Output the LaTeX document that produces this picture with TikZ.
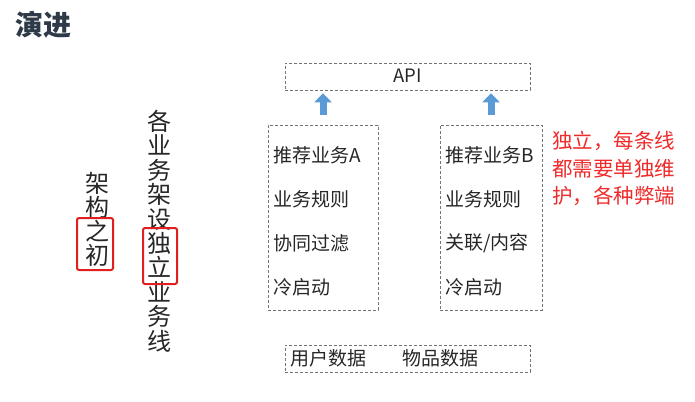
\documentclass[tikz,border=0pt]{standalone}
\usepackage{fontspec}
\setmainfont{Noto Sans CJK SC}
\usetikzlibrary{arrows.meta}
\definecolor{titlecol}{HTML}{2E3A48}
\definecolor{arrowblue}{HTML}{5B9BD5}
\definecolor{boxred}{HTML}{E02020}
\definecolor{notered}{HTML}{EE2A2A}
\tikzset{
  dbox/.style={draw=black!55, densely dashed, line width=0.6pt, inner sep=0pt},
  item/.style={anchor=west, inner sep=0pt, font=\fontsize{19}{21}\selectfont, text=black!85},
  vtext/.style={align=center, inner sep=0pt, text=black!85},
  redbox/.style={draw=boxred, line width=2pt, rounded corners=2pt, inner sep=0pt},
  uparrow/.style={arrowblue, line width=7pt, -{Triangle[width=17pt,length=9pt]}}
}
\begin{document}
\begin{tikzpicture}[x=1pt,y=-1pt]
\useasboundingbox (0,0) rectangle (695,401);
% title
\node[inner sep=0pt, text=titlecol, font=\fontsize{28}{30}\selectfont\bfseries] (title) at (43,25) {演进};
% vertical texts
\node[vtext, font=\fontsize{24}{24}\selectfont] (v1) at (97.5,219) {架\\构\\之\\初};
\node[vtext, font=\fontsize{24}{24.4}\selectfont] (v2) at (159,231) {各\\业\\务\\架\\设\\独\\立\\业\\务\\线};
\node[redbox, minimum width=36pt, minimum height=52pt] (r1) at (95,244) {};
\node[redbox, minimum width=34pt, minimum height=56pt] (r2) at (160,256) {};
% boxes
\node[dbox, minimum width=245pt, minimum height=27pt] (api) at (407.5,76.5) {};
\node[inner sep=0pt, font=\fontsize{18.5}{20}\selectfont, text=black!85] (apit) at (407.5,76) {API};
\node[dbox, minimum width=110pt, minimum height=185pt] (boxA) at (323,217.5) {};
\node[dbox, minimum width=102pt, minimum height=185pt] (boxB) at (491,217.5) {};
\node[dbox, minimum width=245pt, minimum height=27pt] (data) at (407.5,358.5) {};
% items A
\node[item] (a1) at (273,155) {推荐业务A};
\node[item] (a2) at (273,199) {业务规则};
\node[item] (a3) at (273,243) {协同过滤};
\node[item] (a4) at (273,287) {冷启动};
% items B
\node[item] (b1) at (445,155) {推荐业务B};
\node[item] (b2) at (445,199) {业务规则};
\node[item] (b3) at (445,243) {关联/内容};
\node[item] (b4) at (445,287) {冷启动};
% data
\node[item] (d1) at (290,358) {用户数据};
\node[item] (d2) at (402,358) {物品数据};
% arrows
\draw[uparrow, shorten <=10pt, shorten >=3pt] (boxA.north) -- (boxA.north |- api.south);
\draw[uparrow, shorten <=10pt, shorten >=3pt] (boxB.north) -- (boxB.north |- api.south);
% note
\node[anchor=north west, inner sep=0pt, align=left, text=notered, font=\fontsize{20.5}{27.5}\selectfont] (note) at (552,131) {独立，每条线\\都需要单独维\\护，各种弊端};
\end{tikzpicture}
\end{document}
